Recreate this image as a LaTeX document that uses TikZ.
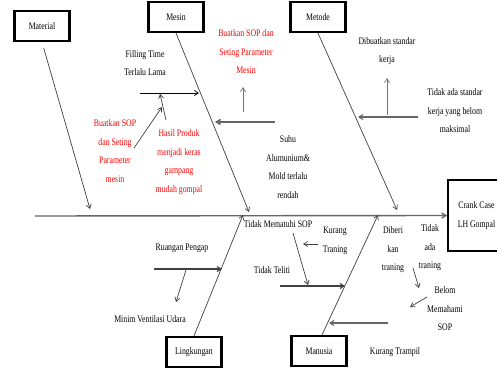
\documentclass[tikz,border=0pt]{standalone}
\usepackage{fontspec}
\setmainfont{Liberation Serif}[FakeStretch=0.78]
\usepackage{tikz}
\usetikzlibrary{arrows.meta}
\usepackage{xcolor}

\begin{document}
\begin{tikzpicture}[
    x=1pt, y=-1pt,
    font={\fontsize{10}{18.5}\selectfont},
    cat/.style={rectangle, draw, line width=2.2pt, minimum width=55pt, minimum height=30pt},
    outcome/.style={rectangle, draw, line width=1.8pt, minimum width=57pt, minimum height=71pt, align=center},
    txt/.style={align=center, inner sep=0pt},
    note/.style={txt, text=red},
    arrow/.style={-{Straight Barb[length=4pt, width=5pt]}, black!75, line width=0.7pt},
    spine/.style={-{Straight Barb[length=4pt, width=5pt]}, black!60, line width=1.4pt},
    branch/.style={arrow, line width=1.1pt, black!60}
]
    \useasboundingbox (0,0) rectangle (497,371);

    % boxes
    \node[cat] (material) at (42,26) {Material};
    \node[cat] (mesin) at (176,17) {Mesin};
    \node[cat] (metode) at (318,17) {Metode};
    \node[cat] (lingkungan) at (194,352) {Lingkungan};
    \node[cat] (manusia) at (319,351) {Manusia};
    \node[outcome] (crank) at (476.5,215.5) {Crank Case\\LH Gompal};

    % spine and main bones
    \coordinate (tail) at (35,216);
    \coordinate (matEnd) at (90,209);
    \coordinate (mesEnd) at (249,212);
    \coordinate (metEnd) at (397,210);
    \coordinate (linEnd) at (243,215);
    \coordinate (manEnd) at (378,215);
    \draw[spine] (tail) -- (crank.west);
    \draw[arrow, shorten <=6pt] (material.south) -- (matEnd);
    \draw[arrow] (mesin.south) -- (mesEnd);
    \draw[arrow] (metode.south) -- (metEnd);
    \draw[arrow] (lingkungan.north) -- (linEnd);
    \draw[arrow] ([xshift=3pt]manusia.north) -- (manEnd);

    % mesin
    \node[txt] (filling) at (145,63) {Filling Time\\Terlalu Lama};
    \coordinate (fillA) at (140,93);
    \coordinate (fillB) at (199,93);
    \draw[arrow, black] (fillA) -- (fillB);
    \node[note] (sop1) at (115,151) {Buatkan SOP\\dan Seting\\Parameter\\mesin};
    \node[note] (hasil) at (179,162) {Hasil Produk\\menjadi keras\\gampang\\mudah gompal};
    \coordinate (sop1A) at (134,148);
    \coordinate (sop1B) at (162,107);
    \coordinate (hasilA) at (166,120);
    \coordinate (hasilB) at (160,94);
    \draw[arrow] (sop1A) -- (sop1B);
    \draw[arrow] (hasilA) -- (hasilB);
    \node[note] (sop2) at (246,52) {Buatkan SOP dan\\Seting Parameter\\Mesin};
    \node[txt] (suhu) at (288,167) {Suhu\\Alumunium\&\\Mold terlalu\\rendah};
    \coordinate (suhuA) at (275,122);
    \coordinate (suhuB) at (215,122);
    \coordinate (sop2A) at (243,112);
    \coordinate (sop2B) at (243,87);
    \draw[branch, line width=1.6pt] (suhuA) -- (suhuB);
    \draw[arrow, black!55] (sop2A) -- (sop2B);

    % metode
    \node[txt] (dibuat) at (387,51) {Dibuatkan standar\\kerja};
    \node[txt] (standar) at (455,111) {Tidak ada standar\\kerja yang belom\\maksimal};
    \coordinate (stdA) at (418,117);
    \coordinate (stdB) at (358,117);
    \coordinate (dibA) at (387,115);
    \coordinate (dibB) at (387,78);
    \draw[branch] (stdA) -- (stdB);
    \draw[arrow, black!55] (dibA) -- (dibB);

    % lingkungan
    \node[txt] (pengap) at (182,248) {Ruangan Pengap};
    \node[txt] (ventilasi) at (150,319) {Minim Ventilasi Udara};
    \coordinate (pengapA) at (154,269);
    \coordinate (pengapB) at (222,269);
    \coordinate (ventA) at (186,270);
    \coordinate (ventB) at (176,302);
    \draw[branch, black!75] (pengapA) -- (pengapB);
    \draw[arrow] (ventA) -- (ventB);

    % manusia
    \node[txt] (patuh) at (278,224) {Tidak Mematuhi SOP};
    \node[txt] (teliti) at (272,270) {Tidak Teliti};
    \node[txt] (kurang) at (335,241) {Kurang\\Traning};
    \node[txt] (diberi) at (393,250) {Diberi\\kan\\traning};
    \node[txt] (tidakada) at (430,248) {Tidak\\ada\\traning};
    \node[txt] (paham) at (445,309) {Belom\\Memahami\\SOP};
    \node[txt] (trampil) at (395,352) {Kurang Trampil};
    \coordinate (telitiA) at (280,286);
    \coordinate (telitiB) at (345,286);
    \coordinate (patuhA) at (293,233);
    \coordinate (patuhB) at (308,285);
    \coordinate (kurangA) at (318,244);
    \coordinate (kurangB) at (303,244);
    \coordinate (diberiA) at (413,268);
    \coordinate (diberiB) at (419,288);
    \coordinate (pahamA) at (427,297);
    \coordinate (pahamB) at (410,307);
    \coordinate (trampilA) at (388,323);
    \coordinate (trampilB) at (329,323);
    \draw[branch, black!75] (telitiA) -- (telitiB);
    \draw[arrow] (patuhA) -- (patuhB);
    \draw[arrow] (kurangA) -- (kurangB);
    \draw[arrow] (diberiA) -- (diberiB);
    \draw[arrow] (pahamA) -- (pahamB);
    \draw[branch] (trampilA) -- (trampilB);
\end{tikzpicture}
\end{document}
